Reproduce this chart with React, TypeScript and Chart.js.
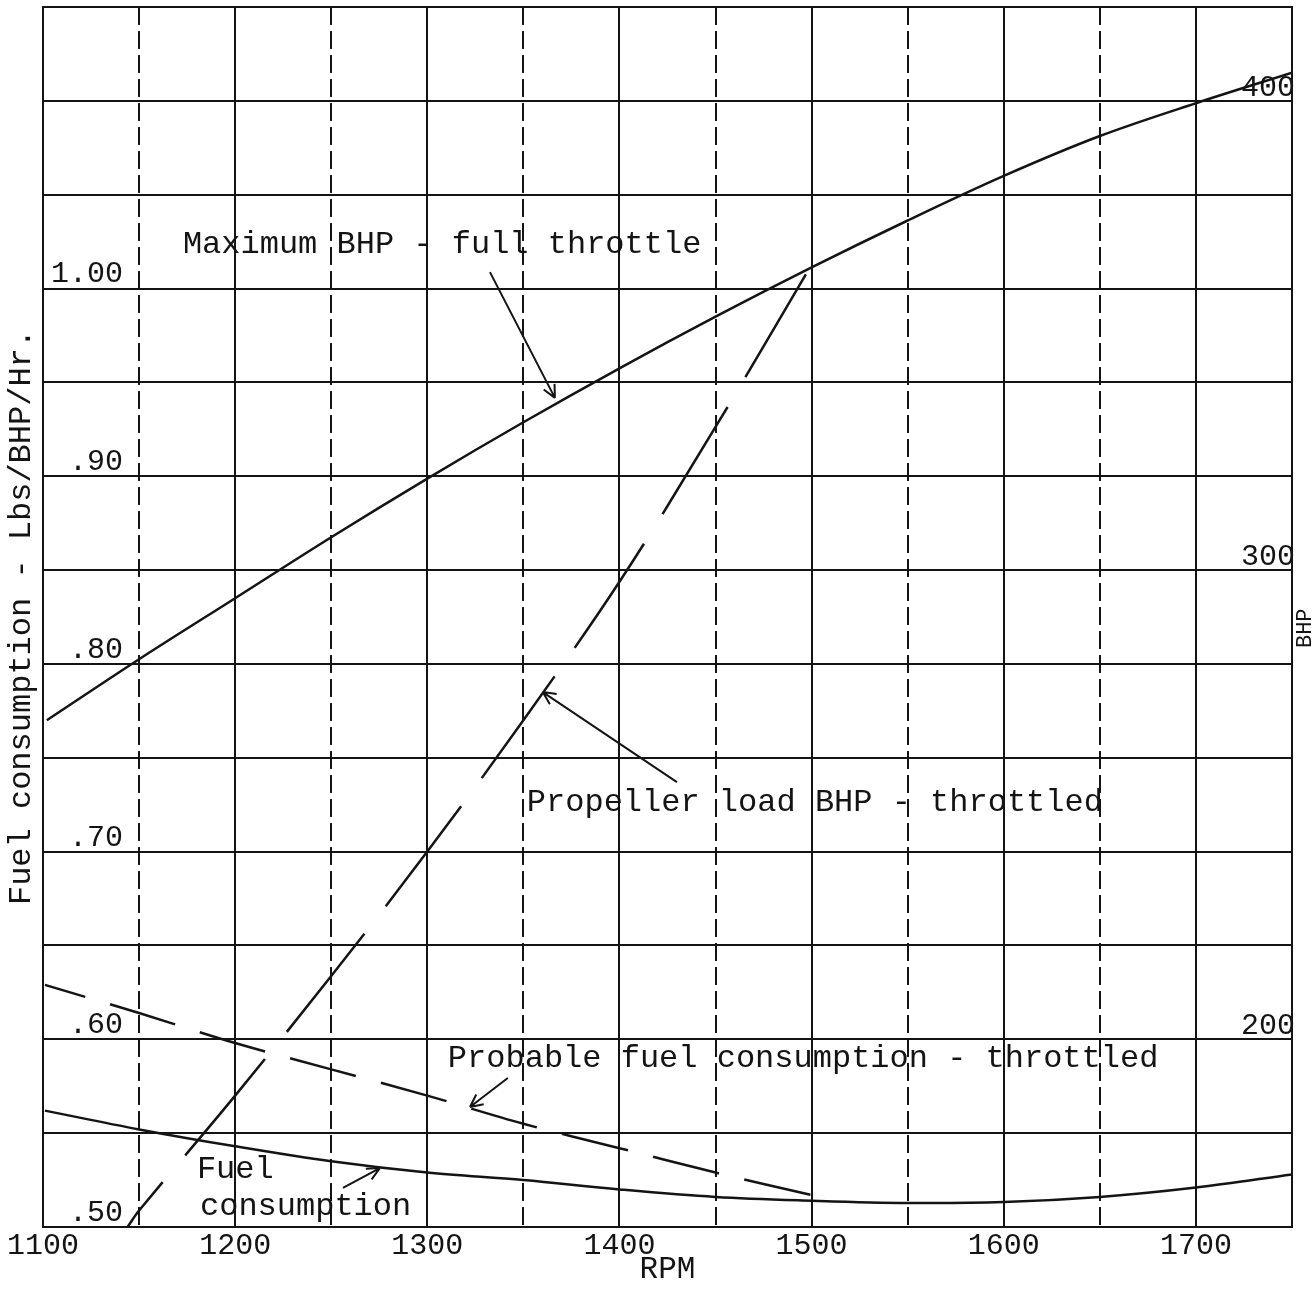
import React, { useEffect, useRef } from 'react';
import { Chart, registerables } from 'chart.js';

Chart.register(...registerables);

const FONT = '"Liberation Mono", "Courier New", monospace';
const INK = '#141414';

// Tick labels
const rpmTickLabels = ['1100', '1200', '1300', '1400', '1500', '1600', '1700'];
const fuelTickLabels = ['.50', '.60', '.70', '.80', '.90', '1.00'];
const bhpTickLabels = ['200', '300', '400'];

// Maximum BHP - full throttle (right axis, BHP)
const maxBhpRpm = [1102, 1150, 1200, 1250, 1300, 1350, 1400, 1450, 1500, 1550, 1600, 1650, 1700, 1750];
const maxBhpValues = [268, 281, 294, 307, 319.5, 331.5, 343, 354, 364.5, 374.5, 384, 392.5, 399.5, 406];

// Propeller load BHP - throttled (right axis, BHP)
const propRpm = [1144, 1150, 1200, 1250, 1300, 1350, 1400, 1450, 1497];
const propBhpValues = [160, 163.5, 188, 213.5, 240, 268, 297.5, 330.5, 363];

// Probable fuel consumption - throttled (left axis)
const probRpm = [1101, 1150, 1200, 1250, 1300, 1350, 1400, 1450, 1500];
const probFuelValues = [0.629, 0.614, 0.598, 0.584, 0.57, 0.555, 0.542, 0.529, 0.517];

// Fuel consumption (left axis)
const fuelRpm = [1101, 1150, 1200, 1250, 1300, 1350, 1400, 1450, 1500, 1550, 1600, 1650, 1700, 1750];
const fuelValues = [0.562, 0.552, 0.543, 0.535, 0.529, 0.525, 0.52, 0.516, 0.514, 0.5128, 0.5133, 0.516, 0.521, 0.528];

// Annotation texts, anchored in data units (rpm, axis value)
const noteTexts = ['Maximum BHP - full throttle', 'Propeller load BHP - throttled', 'Probable fuel consumption - throttled', 'Fuel', 'consumption'];
const noteRpm = [1172.8, 1351.8, 1310.7, 1180.1, 1181.7];
const noteValue = [369.3, 0.7259, 0.5895, 0.5304, 0.5107];
const noteAxis = ['y2', 'y', 'y', 'y', 'y'];

// Pointer arrows: tail -> tip (data units)
const arrowTailRpm = [1332.6, 1429.9, 1341.9, 1256.1];
const arrowTailValue = [363.5, 254.8, 0.5794, 0.5208];
const arrowTipRpm = [1366.4, 1360.1, 1322.2, 1275.3];
const arrowTipValue = [336.7, 274, 0.5639, 0.5314];
const arrowAxis = ['y2', 'y2', 'y', 'y'];

const pts = (xs: number[], ys: number[]) => xs.map((x, i) => ({ x, y: ys[i] }));
const pickLabel = (labels: string[], v: number) => {
  const hit = labels.find((l) => Math.abs(parseFloat(l) - v) < 1e-6);
  return hit ?? '';
};

const notesPlugin = {
  id: 'notes',
  afterDraw(chart: any) {
    const { ctx, scales } = chart;
    const xs = scales.x;
    ctx.save();
    ctx.fillStyle = INK;
    ctx.strokeStyle = INK;
    ctx.font = `32px ${FONT}`;
    ctx.textBaseline = 'middle';
    ctx.textAlign = 'left';
    noteTexts.forEach((t, i) => {
      const ys = scales[noteAxis[i]];
      ctx.fillText(t, xs.getPixelForValue(noteRpm[i]), ys.getPixelForValue(noteValue[i]));
    });
    ctx.lineWidth = 2;
    arrowTailRpm.forEach((_, i) => {
      const ys = scales[arrowAxis[i]];
      const x1 = xs.getPixelForValue(arrowTailRpm[i]);
      const y1 = ys.getPixelForValue(arrowTailValue[i]);
      const x2 = xs.getPixelForValue(arrowTipRpm[i]);
      const y2 = ys.getPixelForValue(arrowTipValue[i]);
      ctx.beginPath();
      ctx.moveTo(x1, y1);
      ctx.lineTo(x2, y2);
      const ang = Math.atan2(y2 - y1, x2 - x1);
      const L = 14;
      ctx.moveTo(x2, y2);
      ctx.lineTo(x2 - L * Math.cos(ang - 0.45), y2 - L * Math.sin(ang - 0.45));
      ctx.moveTo(x2, y2);
      ctx.lineTo(x2 - L * Math.cos(ang + 0.45), y2 - L * Math.sin(ang + 0.45));
      ctx.stroke();
    });
    // Right axis title, reading bottom-to-top
    const y2s = scales.y2;
    ctx.translate(y2s.left + 13, y2s.getPixelForValue(287.6));
    ctx.rotate(-Math.PI / 2);
    ctx.textAlign = 'center';
    ctx.font = `22px ${FONT}`;
    ctx.fillText('BHP', 0, 0);
    ctx.restore();
  },
};

export default function App() {
  const ref = useRef<HTMLCanvasElement | null>(null);

  useEffect(() => {
    if (!ref.current) return;
    const lineBase = {
      borderColor: INK,
      borderWidth: 2.5,
      pointRadius: 0,
      fill: false,
      tension: 0.35,
    };
    const gridDash = (c: any) => (c.tick && Math.round(c.tick.value) % 100 === 50 ? [18, 6] : []);
    const noPad = (s: any) => {
      s.paddingTop = 0;
      s.paddingBottom = 0;
      s.paddingLeft = 0;
      s.paddingRight = 0;
    };
    const chart = new Chart(ref.current, {
      type: 'line',
      data: {
        datasets: [
          { ...lineBase, label: 'Maximum BHP - full throttle', data: pts(maxBhpRpm, maxBhpValues), yAxisID: 'y2' },
          {
            ...lineBase,
            label: 'Propeller load BHP - throttled',
            data: pts(propRpm, propBhpValues),
            yAxisID: 'y2',
            borderDash: [125, 35],
            borderDashOffset: 68,
          },
          {
            ...lineBase,
            label: 'Probable fuel consumption - throttled',
            data: pts(probRpm, probFuelValues),
            yAxisID: 'y',
            borderDash: [68, 26],
            borderDashOffset: 26,
          },
          { ...lineBase, label: 'Fuel consumption', data: pts(fuelRpm, fuelValues), yAxisID: 'y' },
        ],
      },
      options: {
        animation: false,
        responsive: true,
        maintainAspectRatio: false,
        layout: { padding: { top: 7, left: 0, right: 0, bottom: 0 } },
        plugins: { legend: { display: false }, tooltip: { enabled: false } },
        scales: {
          x: {
            type: 'linear',
            min: 1100,
            max: 1750,
            afterFit: (s: any) => {
              s.height = 62;
              noPad(s);
            },
            ticks: {
              stepSize: 50,
              autoSkip: false,
              maxRotation: 0,
              padding: 1,
              color: INK,
              font: { family: FONT, size: 30 },
              callback: (v: any) => pickLabel(rpmTickLabels, Number(v)),
            },
            grid: { color: INK, lineWidth: 2, drawTicks: false, borderDash: gridDash } as any,
            border: { display: true, color: INK, width: 2, dash: gridDash } as any,
            title: {
              display: true,
              text: 'RPM',
              color: INK,
              font: { family: FONT, size: 31 },
              padding: { top: 0, bottom: 1 },
            },
          },
          y: {
            type: 'linear',
            position: 'left',
            min: 0.5,
            max: 1.15,
            afterFit: (s: any) => {
              s.width = 43;
              noPad(s);
            },
            ticks: {
              stepSize: 0.05,
              autoSkip: false,
              mirror: true,
              crossAlign: 'far',
              padding: 8,
              labelOffset: -14,
              color: INK,
              font: { family: FONT, size: 30 },
              callback: (v: any) => pickLabel(fuelTickLabels, Number(v)),
            },
            grid: { color: INK, lineWidth: 2, drawTicks: false },
            border: { display: true, color: INK, width: 2 },
            title: {
              display: true,
              text: 'Fuel consumption - Lbs/BHP/Hr.',
              color: INK,
              font: { family: FONT, size: 32 },
              padding: { top: 2, bottom: 0 },
            },
          },
          y2: {
            type: 'linear',
            position: 'right',
            min: 160,
            max: 420,
            afterFit: (s: any) => {
              s.width = 23;
              noPad(s);
            },
            ticks: {
              stepSize: 20,
              autoSkip: false,
              mirror: true,
              crossAlign: 'near',
              padding: 3,
              labelOffset: -13,
              color: INK,
              font: { family: FONT, size: 30 },
              callback: (v: any) => pickLabel(bhpTickLabels, Number(v)),
            },
            grid: { display: false, drawTicks: false },
            border: { display: true, color: INK, width: 2 },
            title: { display: false },
          },
        },
      },
      plugins: [notesPlugin],
    });
    return () => chart.destroy();
  }, []);

  return (
    <div style={{ position: 'absolute', left: 0, top: 0, width: 1315, height: 1289, background: '#fff' }}>
      <canvas ref={ref} />
    </div>
  );
}
